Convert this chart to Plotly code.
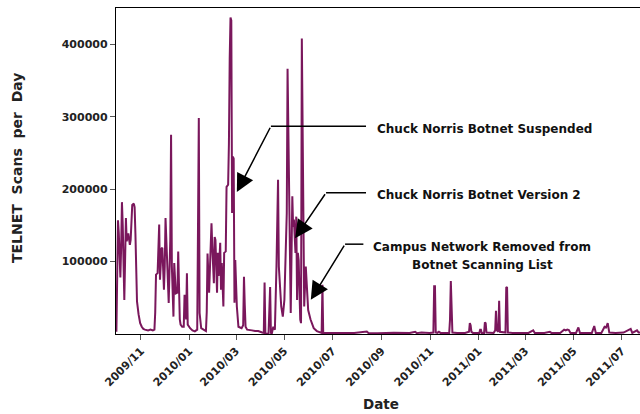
import pandas as pd
import plotly.graph_objects as go

START_DATE = "2009-10-01"

# day offsets from START_DATE and TELNET scans per day
days_since_start = [
    0, 1, 2, 3, 5, 6, 7, 8, 10, 12, 13, 15, 17, 18, 20, 22, 23, 24, 25, 26,
    28, 30, 32, 34, 36, 40, 43, 46, 48, 49, 50, 52, 54, 55, 57, 58, 60, 61, 62, 64,
    65, 66, 68, 69, 70, 72, 73, 75, 77, 78, 80, 81, 83, 85, 86, 88, 89, 90, 93, 96,
    99, 102, 103, 104, 105, 107, 110, 113, 114, 115, 117, 118, 120, 121, 123, 124, 125, 127, 128, 129,
    131, 132, 133, 135, 136, 138, 139, 141, 142, 143, 144, 145, 146, 147, 148, 149, 150, 152, 154, 156,
    158, 160, 161, 162, 163, 165, 167, 171, 175, 179, 184, 186, 187, 188, 190, 192, 194, 195, 196, 198,
    200, 201, 202, 204, 205, 208, 210, 212, 214, 215, 216, 218, 219, 220, 222, 223, 224, 226, 227, 228,
    229, 230, 232, 233, 234, 236, 237, 239, 240, 242, 245, 249, 253, 257, 259, 260, 261, 266, 280, 300,
    316, 318, 330, 350, 370, 377, 379, 385, 395, 398, 400, 401, 402, 403, 405, 407, 409, 420, 421, 422,
    423, 424, 430, 440, 445, 446, 447, 448, 450, 458, 459, 460, 461, 464, 465, 466, 467, 476, 478, 479,
    480, 482, 483, 484, 491, 492, 493, 494, 500, 510, 520, 526, 528, 540, 547, 549, 560, 565, 567, 569,
    571, 573, 580, 583, 585, 595, 600, 603, 605, 612, 616, 618, 620, 622, 630, 640, 649, 651, 655, 657,
    659, 661,
]
scans_per_day = [
    3000, 90000, 157000, 140000, 78000, 120000, 182000, 150000, 47000, 160000, 128000, 139000, 123000, 130000, 178000, 180000, 175000, 139000, 60000, 45000,
    27000, 15000, 10000, 7000, 6000, 5000, 6000, 5000, 6000, 30000, 82000, 84000, 151000, 75000, 118000, 119000, 61000, 93000, 160000, 100000,
    68000, 43000, 130000, 275000, 93000, 24000, 98000, 56000, 57000, 114000, 20000, 13000, 10000, 10000, 54000, 20000, 84000, 13000, 8000, 5000,
    3600, 6000, 150000, 298000, 29000, 8000, 6000, 4000, 30000, 111000, 57000, 93000, 153000, 121000, 70000, 134000, 130000, 57000, 112000, 80000,
    126000, 61000, 98000, 38000, 112000, 114000, 203000, 206000, 263000, 380000, 437000, 433000, 167000, 245000, 242000, 43000, 102000, 38000, 10000, 9000,
    8000, 12000, 79000, 40000, 10000, 6000, 6000, 5000, 4000, 4000, 2000, 1500, 71000, 1000, 0, 1000, 65000, 1500, 0, 10000,
    6000, 40000, 93000, 213000, 93000, 38000, 24000, 47000, 130000, 167000, 366000, 185000, 56000, 29000, 190000, 148000, 158000, 112000, 162000, 47000,
    112000, 102000, 20000, 15000, 408000, 140000, 38000, 93000, 65000, 33000, 20000, 8000, 4000, 2000, 1500, 68000, 1500, 1500, 1200, 1500,
    3500, 1500, 1200, 1800, 1300, 3000, 1200, 2200, 1400, 1500, 2000, 66000, 66000, 2000, 1500, 3000, 1500, 1500, 20000, 73000,
    29000, 2000, 1500, 1500, 3000, 15000, 12000, 3000, 1500, 1500, 6000, 6000, 1500, 1500, 16000, 15000, 2000, 1500, 5000, 32000,
    5000, 3000, 46000, 3000, 2000, 65000, 64000, 2000, 1500, 2000, 1500, 5000, 1500, 1500, 3000, 1500, 1500, 6000, 5000, 6000,
    5500, 1500, 1500, 9000, 1500, 1500, 1500, 11000, 1500, 1500, 10000, 9000, 15000, 2000, 1500, 2000, 7000, 1500, 4000, 5000,
    2000, 2000,
]

y_tick_values = [100000, 200000, 300000, 400000]

x_title = "Date"
y_title = "TELNET\u00a0\u00a0Scans\u00a0\u00a0per\u00a0\u00a0Day"
annotation_texts = [
    "Chuck Norris Botnet Suspended",
    "Chuck Norris Botnet Version 2",
    "Campus Network Removed from",
    "Botnet Scanning List",
]

dates = pd.Timestamp(START_DATE) + pd.to_timedelta(days_since_start, unit="D")

FONT = "DejaVu Sans"
LINE_COLOR = "#7a175c"
TXT = "#222222"

fig = go.Figure()
fig.add_trace(go.Scatter(
    x=dates, y=scans_per_day, mode="lines",
    line=dict(color=LINE_COLOR, width=2),
    showlegend=False,
))

fig.update_layout(
    width=640, height=414,
    margin=dict(l=116, r=0, t=8, b=80),
    paper_bgcolor="white", plot_bgcolor="white",
    font=dict(family=FONT, color=TXT),
)

fig.update_xaxes(
    automargin=False,
    range=["2009-09-30 12:00", "2011-07-23 18:00"],
    tick0="2009-11-01", dtick="M2", tickformat="%Y/%m",
    tickangle=-45, tickfont=dict(family=FONT, size=11, color=TXT, weight="bold"),
    ticks="outside", ticklen=5, tickcolor="#555555", tickwidth=1,
    showgrid=False, zeroline=False,
    showline=True, linecolor="black", linewidth=1.3, mirror=True,
)
fig.update_yaxes(
    automargin=False,
    range=[0, 450000],
    tickvals=y_tick_values, tickformat="d",
    tickfont=dict(family=FONT, size=11, color=TXT, weight="bold"),
    ticks="outside", ticklen=5, tickcolor="#555555", tickwidth=1,
    showgrid=False, zeroline=False,
    showline=True, linecolor="black", linewidth=1.3,
)

# axis titles
fig.add_annotation(xref="paper", yref="paper", x=0.5057, y=-0.2147,
                   xanchor="center", yanchor="middle", showarrow=False,
                   text="<b>" + x_title + "</b>",
                   font=dict(family=FONT, size=13.5, color=TXT))
fig.add_annotation(xref="paper", yref="paper", x=-0.189, y=0.509,
                   xanchor="center", yanchor="middle", showarrow=False,
                   textangle=-90, text="<b>" + y_title + "</b>",
                   font=dict(family=FONT, size=14, color=TXT))

# arrow callouts: (tip date, tip value, elbow date, elbow value, end date)
callouts = [
    ("2010-03-02", 196000, "2010-04-14", 286800, "2010-08-12"),
    ("2010-05-14 12:00", 132200, "2010-06-22 14:00", 195000, "2010-08-12"),
    ("2010-06-03 08:00", 47200, "2010-07-16 14:00", 124000, "2010-08-08 16:00"),
]
for tip_x, tip_y, elb_x, elb_y, end_x in callouts:
    fig.add_shape(type="line", xref="x", yref="y",
                  x0=elb_x, y0=elb_y, x1=end_x, y1=elb_y,
                  line=dict(color="black", width=1.5))
    fig.add_annotation(x=tip_x, y=tip_y, ax=elb_x, ay=elb_y,
                       xref="x", yref="y", axref="x", ayref="y",
                       text="", showarrow=True, arrowhead=2,
                       arrowsize=2.4, arrowwidth=1.5, arrowcolor="black")

text_font = dict(family=FONT, size=12, color="#111111")
fig.add_annotation(xref="paper", yref="paper", x=0.4943, y=0.628,
                   xanchor="left", yanchor="middle", showarrow=False,
                   text="<b>" + annotation_texts[0] + "</b>", font=text_font)
fig.add_annotation(xref="paper", yref="paper", x=0.4943, y=0.4273,
                   xanchor="left", yanchor="middle", showarrow=False,
                   text="<b>" + annotation_texts[1] + "</b>", font=text_font)
fig.add_annotation(xref="paper", yref="paper", x=0.6994, y=0.2669,
                   xanchor="center", yanchor="middle", showarrow=False,
                   text="<b>" + annotation_texts[2] + "</b>", font=text_font)
fig.add_annotation(xref="paper", yref="paper", x=0.6994, y=0.2107,
                   xanchor="center", yanchor="middle", showarrow=False,
                   text="<b>" + annotation_texts[3] + "</b>", font=text_font)

fig.write_html("out.html",
               config={"displayModeBar": False},
               post_script="document.body.style.margin='0';document.body.style.overflow='hidden';")
